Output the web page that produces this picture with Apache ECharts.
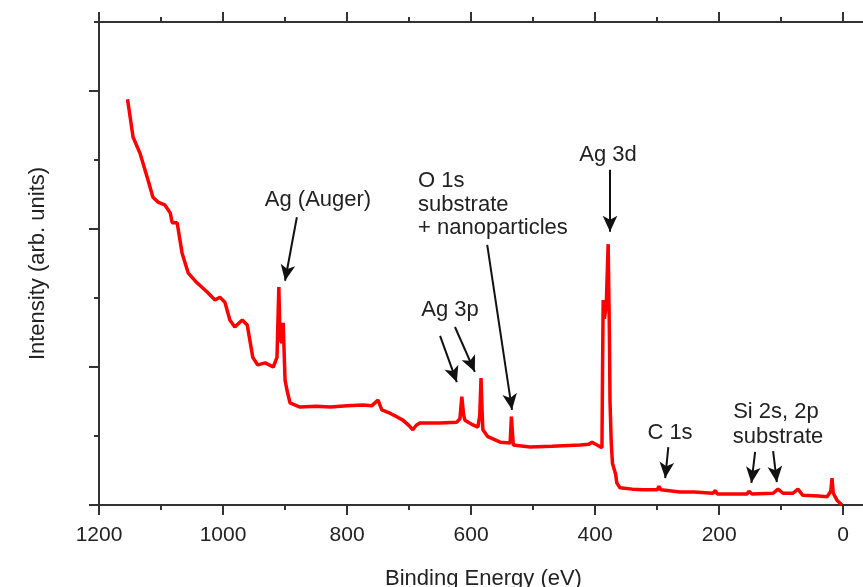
<!DOCTYPE html>
<html>
<head>
<meta charset="utf-8">
<style>
  html, body { margin: 0; padding: 0; background: #fff; }
  #main { width: 863px; height: 587px; }
</style>
</head>
<body>
<div id="main"></div>
<script src="https://cdn.jsdelivr.net/npm/echarts@6/dist/echarts.min.js"></script>
<script>
// binding energy (eV) and intensity (arb. units)
var energy = [1154, 1145, 1134, 1121, 1113, 1105, 1094, 1085, 1082, 1074, 1066, 1056, 1042, 1026, 1013, 1005, 997, 989, 981, 969,
  961, 952, 944, 932, 919, 913, 910, 908, 905, 903, 900, 897, 892, 876, 850, 827, 800, 774, 760, 750,
  744, 731, 720, 710, 700, 694, 688, 682, 650, 623, 618, 615, 612, 610, 597, 589, 586, 584, 582, 581,
  573, 553, 537, 535, 532, 505, 470, 424, 410, 405, 397, 389, 388, 387, 385, 382, 380, 379, 377, 376,
  374, 372, 369, 367, 365, 360, 340, 323, 300, 297, 294, 263, 240, 210, 206, 203, 155, 152, 147, 113,
  105, 97, 81, 73, 65, 40, 26, 20, 18, 16, 10, 2];
var intensity = [5.88, 5.33, 5.10, 4.71, 4.46, 4.39, 4.35, 4.23, 4.09, 4.09, 3.65, 3.36, 3.22, 3.09, 2.97, 3.01, 2.94, 2.68, 2.58, 2.68,
  2.61, 2.14, 2.03, 2.06, 2.00, 2.14, 3.16, 2.40, 2.35, 2.64, 1.81, 1.67, 1.48, 1.42, 1.43, 1.42, 1.44, 1.45, 1.44, 1.52,
  1.38, 1.33, 1.28, 1.23, 1.15, 1.09, 1.16, 1.19, 1.19, 1.20, 1.25, 1.57, 1.30, 1.23, 1.16, 1.13, 1.30, 1.84, 1.30, 1.09,
  0.99, 0.91, 0.90, 1.28, 0.87, 0.84, 0.85, 0.87, 0.88, 0.91, 0.87, 0.83, 2.00, 2.97, 2.70, 2.90, 3.50, 3.78, 2.50, 1.50,
  0.90, 0.60, 0.58, 0.45, 0.32, 0.25, 0.23, 0.22, 0.22, 0.27, 0.22, 0.19, 0.19, 0.17, 0.21, 0.16, 0.16, 0.20, 0.16, 0.17,
  0.23, 0.17, 0.17, 0.23, 0.14, 0.13, 0.12, 0.20, 0.39, 0.17, 0.07, 0.00];

var majorTicksX = [0, 200, 400, 600, 800, 1000, 1200];
var minorTicksX = [100, 300, 500, 700, 900, 1100];
var majorTicksY = [0, 2, 4, 6];
var minorTicksY = [1, 3, 5, 7];

// arrows: [from energy, from intensity, to energy, to intensity]
var arrows = [
  [881, 4.17, 900, 3.25],
  [574, 3.77, 534, 1.38],
  [376, 4.86, 376, 3.96],
  [650, 2.45, 623, 1.78],
  [626, 2.58, 594, 1.93],
  [282, 0.84, 287, 0.39],
  [142, 0.77, 148, 0.32],
  [113, 0.78, 107, 0.33]
];

var FONT = '"Liberation Sans", Arial, sans-serif';
var axisColor = '#333';

var seriesData = energy.map(function (e, i) { return [e, intensity[i]]; });

function xAx(pos, ticks, len, showLine, showLabel) {
  return {
    type: 'value', min: -40, max: 1200, inverse: true, position: pos,
    axisLine: { show: showLine, onZero: false, lineStyle: { color: axisColor, width: 2 } },
    axisTick: { show: true, inside: false, length: len, customValues: ticks, lineStyle: { color: axisColor, width: 2 } },
    axisLabel: { show: showLabel, customValues: ticks, margin: 20, color: '#222', fontSize: 21, fontFamily: FONT,
      formatter: function (v) { return String(v); } },
    splitLine: { show: false }
  };
}
function yAx(ticks, len, showLine) {
  return {
    type: 'value', min: 0, max: 7, position: 'left',
    axisLine: { show: showLine, onZero: false, lineStyle: { color: axisColor, width: 2 } },
    axisTick: { show: true, inside: false, length: len, customValues: ticks, lineStyle: { color: axisColor, width: 2 } },
    axisLabel: { show: false },
    splitLine: { show: false }
  };
}

var xAxes = [
  xAx('bottom', majorTicksX, 10, true, true),
  xAx('bottom', minorTicksX, 5, false, false),
  xAx('top', majorTicksX, 10, true, false),
  xAx('top', minorTicksX, 5, false, false)
];
xAxes[0].name = 'Binding Energy (eV)';
xAxes[0].nameLocation = 'middle';
xAxes[0].nameGap = 63;
xAxes[0].nameTextStyle = { color: '#222', fontSize: 22, fontFamily: FONT };

var yAxes = [yAx(majorTicksY, 10, true), yAx(minorTicksY, 5, false)];
yAxes[0].name = 'Intensity (arb. units)';
yAxes[0].nameLocation = 'middle';
yAxes[0].nameGap = 50;
yAxes[0].nameTextStyle = { color: '#222', fontSize: 22, fontFamily: FONT };

var labels = [
  ['Ag (Auger)', 318, 200, 'center'],
  ['Ag 3d', 608, 155, 'center'],
  ['O 1s', 418, 181, 'left'],
  ['substrate', 418, 205, 'left'],
  ['+ nanoparticles', 418, 228, 'left'],
  ['Ag 3p', 450, 310, 'center'],
  ['C 1s', 670, 433, 'center'],
  ['Si 2s, 2p', 776, 412, 'center'],
  ['substrate', 778, 437, 'center']
];

var myChart = echarts.init(document.getElementById('main'), null, { renderer: 'canvas' });

var option = {
  animation: false,
  backgroundColor: '#ffffff',
  grid: { left: 99, top: 22, width: 769, height: 483, outerBoundsMode: 'none', containLabel: false },
  xAxis: xAxes,
  yAxis: yAxes,
  graphic: labels.map(function (l) {
    return {
      type: 'text', x: l[1], y: l[2], silent: true,
      style: { text: l[0], fill: '#222', font: '22px ' + FONT, textAlign: l[3], textVerticalAlign: 'middle' }
    };
  }),
  series: [{
    type: 'line',
    data: seriesData,
    xAxisIndex: 0, yAxisIndex: 0,
    showSymbol: false,
    symbol: 'none',
    lineStyle: { color: '#ff0000', width: 3.5 },
    markLine: {
      silent: true,
      symbol: ['none', 'arrow'],
      symbolSize: [11, 16],
      label: { show: false },
      lineStyle: { color: '#111', width: 2, type: 'solid' },
      emphasis: { disabled: true },
      data: arrows.map(function (a) {
        return [{ coord: [a[0], a[1]] }, { coord: [a[2], a[3]] }];
      })
    }
  }]
};

myChart.setOption(option);
</script>
</body>
</html>
